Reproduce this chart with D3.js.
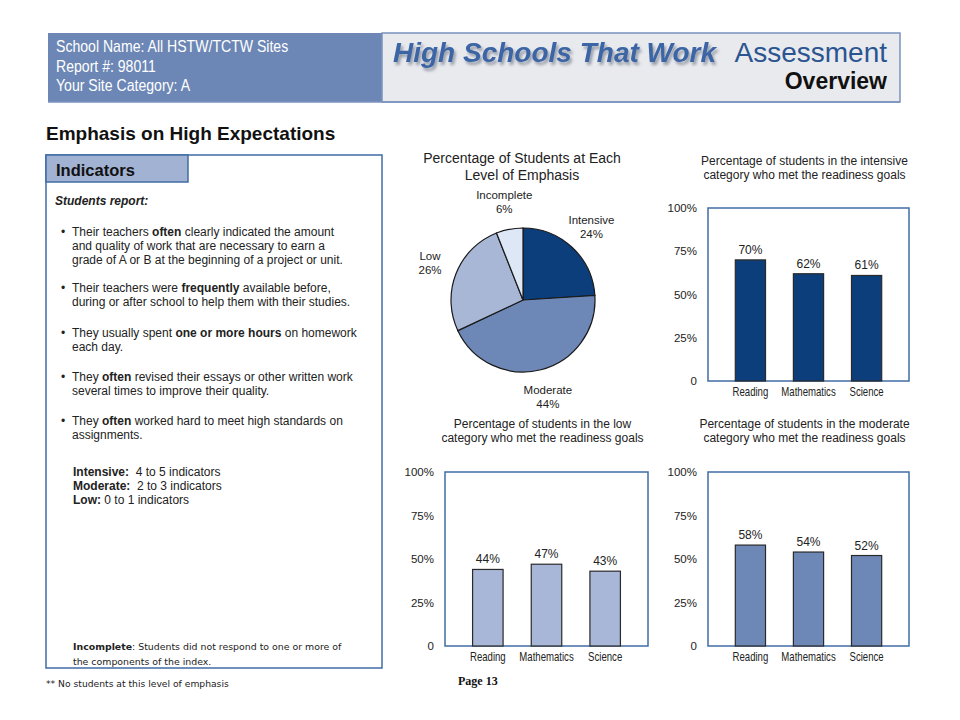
<!DOCTYPE html>
<html>
<head>
<meta charset="utf-8">
<script src="https://cdn.jsdelivr.net/npm/d3@7"></script>
<style>
  body { margin: 0; background: #fff; }
  svg { display: block; font-family: "Liberation Sans", Arial, sans-serif; }
</style>
</head>
<body>
<svg id="page" width="960" height="720"></svg>
<script>
// pie data
const levels = ["Intensive", "Moderate", "Low", "Incomplete"];
const levelShares = [24, 44, 26, 6];
const levelColors = ["#0b3e7a", "#6d88b7", "#a8b7d6", "#dde7f6"];

// bar data
const subjects = ["Reading", "Mathematics", "Science"];
const intensiveMet = [70, 62, 61];
const lowMet = [44, 47, 43];
const moderateMet = [58, 54, 52];
const yTicks = [0, 25, 50, 75, 100];

const svg = d3.select("#page");

// drop shadow for the logo text
const defs = svg.append("defs");
defs.append("filter").attr("id", "shadow")
  .attr("x", "-5%").attr("y", "-20%").attr("width", "110%").attr("height", "160%")
  .append("feDropShadow")
  .attr("dx", 2).attr("dy", 3).attr("stdDeviation", 1.6)
  .attr("flood-color", "#7f8796").attr("flood-opacity", 0.8);

// header
svg.append("rect").attr("x", 48).attr("y", 33).attr("width", 334).attr("height", 69)
  .attr("fill", "#6c87b5");
svg.append("rect").attr("x", 382).attr("y", 33).attr("width", 518).attr("height", 69)
  .attr("fill", "#e9eaee").attr("stroke", "#7b93bd").attr("stroke-width", 1.5);
svg.append("line").attr("x1", 48).attr("x2", 900).attr("y1", 102).attr("y2", 102)
  .attr("stroke", "#7b93bd").attr("stroke-width", 1.5);

// no narrow font installed, so squeeze horizontally
const headLines = ["School Name: All HSTW/TCTW Sites", "Report #: 98011", "Your Site Category: A"];
svg.append("g").selectAll("text").data(headLines).join("text")
  .attr("transform", (d, i) => `translate(56,${52 + i * 19.5}) scale(0.88,1)`)
  .attr("font-size", 16).attr("fill", "#fff")
  .text(d => d);

svg.append("text").attr("x", 393).attr("y", 62)
  .attr("font-size", 28).attr("font-weight", "bold").attr("font-style", "italic")
  .attr("fill", "#3a65a4").attr("filter", "url(#shadow)")
  .text("High Schools That Work");
svg.append("text").attr("x", 887).attr("y", 62).attr("text-anchor", "end")
  .attr("font-size", 28).attr("fill", "#2b5591")
  .text("Assessment");
svg.append("text").attr("x", 887).attr("y", 89).attr("text-anchor", "end")
  .attr("font-size", 23).attr("font-weight", "bold").attr("fill", "#111")
  .text("Overview");

// left panel
svg.append("text").attr("x", 46).attr("y", 140)
  .attr("font-size", 19).attr("font-weight", "bold").attr("fill", "#111")
  .text("Emphasis on High Expectations");

svg.append("rect").attr("x", 46).attr("y", 155).attr("width", 336).attr("height", 513)
  .attr("fill", "none").attr("stroke", "#3f6ca5").attr("stroke-width", 1.5);
svg.append("rect").attr("x", 46).attr("y", 155).attr("width", 142).attr("height", 27)
  .attr("fill", "#a2b2d3").attr("stroke", "#3f6ca5").attr("stroke-width", 1.5);
svg.append("text").attr("x", 56).attr("y", 176)
  .attr("font-size", 16.5).attr("font-weight", "bold").attr("fill", "#111")
  .text("Indicators");

svg.append("text").attr("x", 55).attr("y", 205)
  .attr("font-size", 12).attr("font-weight", "bold").attr("font-style", "italic").attr("fill", "#222")
  .text("Students report:");

// each line is a list of [text, bold]
const bullets = [
  { y: 236, lines: [
    [["Their teachers ", 0], ["often", 1], [" clearly indicated the amount", 0]],
    [["and quality of work that are necessary to earn a", 0]],
    [["grade of A or B at the beginning of a project or unit.", 0]]] },
  { y: 292, lines: [
    [["Their teachers were ", 0], ["frequently", 1], [" available before,", 0]],
    [["during or after school to help them with their studies.", 0]]] },
  { y: 337, lines: [
    [["They usually spent ", 0], ["one or more hours", 1], [" on homework", 0]],
    [["each day.", 0]]] },
  { y: 381, lines: [
    [["They ", 0], ["often", 1], [" revised their essays or other written work", 0]],
    [["several times to improve their quality.", 0]]] },
  { y: 425, lines: [
    [["They ", 0], ["often", 1], [" worked hard to meet high standards on", 0]],
    [["assignments.", 0]]] }
];

const bulletG = svg.append("g").attr("font-size", 12).attr("fill", "#222");
bullets.forEach(b => {
  bulletG.append("text").attr("x", 61).attr("y", b.y).text("\u2022");
  b.lines.forEach((ln, i) => {
    const t = bulletG.append("text").attr("x", 72).attr("y", b.y + i * 14);
    ln.forEach(([s, bold]) => {
      t.append("tspan").attr("font-weight", bold ? "bold" : null).text(s);
    });
  });
});

const levelRules = [["Intensive:", "  4 to 5 indicators"], ["Moderate:", "  2 to 3 indicators"], ["Low:", " 0 to 1 indicators"]];
const rulesG = svg.append("g").attr("font-size", 12).attr("fill", "#222");
levelRules.forEach((r, i) => {
  const t = rulesG.append("text").attr("x", 73).attr("y", 476 + i * 14).attr("xml:space", "preserve");
  t.append("tspan").attr("font-weight", "bold").text(r[0]);
  t.append("tspan").text(r[1]);
});

const noteG = svg.append("g").attr("font-family", "'DejaVu Sans', Verdana, sans-serif")
  .attr("font-size", 9.4).attr("fill", "#222");
const n1 = noteG.append("text").attr("x", 73).attr("y", 650);
n1.append("tspan").attr("font-weight", "bold").text("Incomplete");
n1.append("tspan").text(":  Students did not respond to one or more of");
noteG.append("text").attr("x", 73).attr("y", 665).text("the components of the index.");
noteG.append("text").attr("x", 46).attr("y", 687).attr("font-size", 9.2)
  .text("** No students at this level of emphasis");

svg.append("text").attr("x", 458).attr("y", 685)
  .attr("font-family", "'Liberation Serif', 'Times New Roman', serif")
  .attr("font-size", 12).attr("font-weight", "bold").attr("fill", "#111")
  .text("Page 13");

// pie chart
const pieCx = 523, pieCy = 300, pieR = 72;
const pieG = svg.append("g").attr("transform", `translate(${pieCx},${pieCy})`);

svg.append("g").attr("font-size", 14).attr("fill", "#222").attr("text-anchor", "middle")
  .selectAll("text").data(["Percentage of Students at Each", "Level of Emphasis"]).join("text")
  .attr("x", 522).attr("y", (d, i) => 163 + i * 17).text(d => d);

const pieData = levels.map((name, i) => ({ name, value: levelShares[i], color: levelColors[i] }));
const arcs = d3.pie().sort(null).value(d => d.value)(pieData);
const arc = d3.arc().innerRadius(0).outerRadius(pieR);
const labelArc = d3.arc().innerRadius(100).outerRadius(100);

pieG.selectAll("path").data(arcs).join("path")
  .attr("d", arc)
  .attr("fill", d => d.data.color)
  .attr("stroke", "#1a1a1a").attr("stroke-width", 1.2);

const lab = pieG.selectAll("g.lab").data(arcs).join("g").attr("class", "lab")
  .attr("transform", d => `translate(${labelArc.centroid(d)})`)
  .attr("font-size", 11.5).attr("fill", "#222").attr("text-anchor", "middle");
lab.append("text").attr("y", -3).text(d => d.data.name);
lab.append("text").attr("y", 11).text(d => d.data.value + "%");

// bar charts
function barChart(cfg) {
  const g = svg.append("g");
  const x = d3.scaleBand().domain(subjects).range([cfg.left, cfg.right])
    .paddingInner(0.48).paddingOuter(0.47);
  const y = d3.scaleLinear().domain([0, 100]).range([cfg.bottom, cfg.top]);
  const mid = (cfg.left + cfg.right) / 2 - 4;

  g.append("g").attr("font-size", 12).attr("fill", "#222").attr("text-anchor", "middle")
    .selectAll("text").data(cfg.title).join("text")
    .attr("x", mid).attr("y", (d, i) => cfg.titleY + i * 14).text(d => d);

  g.append("rect")
    .attr("x", cfg.left).attr("y", cfg.top)
    .attr("width", cfg.right - cfg.left).attr("height", cfg.bottom - cfg.top)
    .attr("fill", "#fff").attr("stroke", "#3f6ca5").attr("stroke-width", 1.5);

  const yAxis = g.append("g").attr("transform", `translate(${cfg.left},0)`)
    .call(d3.axisLeft(y).tickValues(yTicks).tickSize(0).tickPadding(11)
      .tickFormat(d => d === 0 ? "0" : d + "%"));
  yAxis.select(".domain").remove();
  yAxis.selectAll("text").attr("font-size", 11.5).attr("fill", "#222")
    .attr("font-family", null);

  const xAxis = g.append("g").attr("transform", `translate(0,${cfg.bottom})`)
    .call(d3.axisBottom(x).tickSize(0).tickPadding(6));
  xAxis.select(".domain").remove();
  xAxis.selectAll("text").attr("font-size", 12).attr("transform", "scale(0.8,1)")
    .attr("fill", "#222").attr("font-family", null);

  const rows = subjects.map((s, i) => ({ s, v: cfg.values[i] }));
  g.selectAll("rect.bar").data(rows).join("rect").attr("class", "bar")
    .attr("x", d => x(d.s)).attr("y", d => y(d.v))
    .attr("width", x.bandwidth()).attr("height", d => y(0) - y(d.v))
    .attr("fill", cfg.color).attr("stroke", "#2a2a2a").attr("stroke-width", 1.2);

  g.selectAll("text.val").data(rows).join("text").attr("class", "val")
    .attr("x", d => x(d.s) + x.bandwidth() / 2).attr("y", d => y(d.v) - 6)
    .attr("text-anchor", "middle").attr("font-size", 12).attr("fill", "#222")
    .text(d => d.v + "%");
}

barChart({ left: 708, right: 909, top: 208, bottom: 381, values: intensiveMet, color: "#0b3e7a",
  titleY: 165, title: ["Percentage of students in the intensive", "category who met the readiness goals"] });
barChart({ left: 445, right: 648, top: 472, bottom: 646, values: lowMet, color: "#a8b7d8",
  titleY: 428, title: ["Percentage of students in the low", "category who met the readiness goals"] });
barChart({ left: 708, right: 909, top: 472, bottom: 646, values: moderateMet, color: "#6d88b7",
  titleY: 428, title: ["Percentage of students in the moderate", "category who met the readiness goals"] });
</script>
</body>
</html>
